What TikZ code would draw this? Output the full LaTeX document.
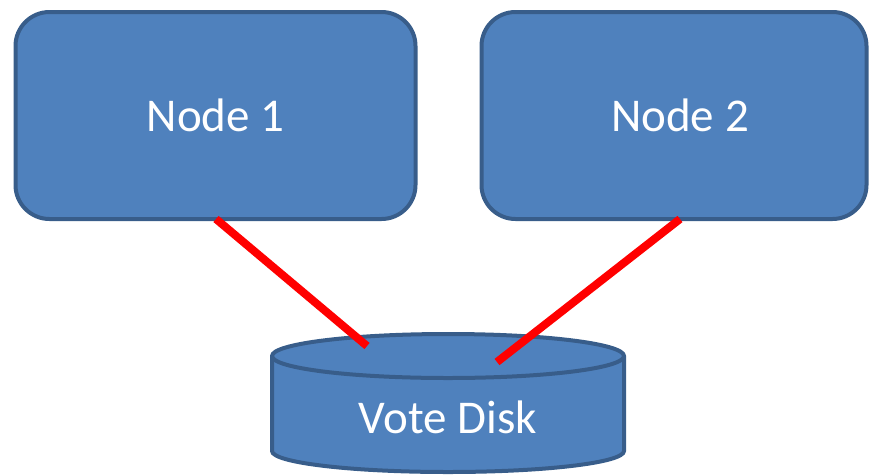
\documentclass[tikz,border=0pt]{standalone}
\usepackage{fontspec}
\setmainfont{Carlito}
\definecolor{boxfill}{HTML}{4F81BD}
\definecolor{boxline}{HTML}{385D8A}
\begin{document}
\begin{tikzpicture}[x=1pt,y=-1pt,
  srv/.style={draw=boxline,fill=boxfill,line width=4pt,rounded corners=34pt,
    text=white,font=\fontsize{47}{56}\selectfont,inner sep=0pt},
  link/.style={draw=red,line width=8pt}]
\useasboundingbox (0,0) rectangle (869,474);
\node[srv,minimum width=400pt,minimum height=207pt] (n1) at (215.5,115.5) {Node 1};
\node[srv,minimum width=385pt,minimum height=207pt] (n2) at (674,115.5) {\hspace*{12pt}Node 2};
% cylinder
\path[draw=boxline,fill=boxfill,line width=4pt]
  (272,356) -- (272,451) arc[start angle=180,end angle=360,x radius=176pt,y radius=21pt]
  -- (624,356) arc[start angle=0,end angle=180,x radius=176pt,y radius=22pt] -- cycle;
\path[draw=boxline,line width=4pt] (272,356) arc[start angle=180,end angle=360,x radius=176pt,y radius=22pt];
\node[text=white,font=\fontsize{47}{56}\selectfont,inner sep=0pt] (disk) at (448,417) {Vote Disk};
\coordinate (d1) at (367,346);
\coordinate (d2) at (497,362);
\coordinate (s1) at (216,219);
\coordinate (s2) at (680,219);
\draw[link] (s1) -- (d1);
\draw[link] (s2) -- (d2);
\end{tikzpicture}
\end{document}
